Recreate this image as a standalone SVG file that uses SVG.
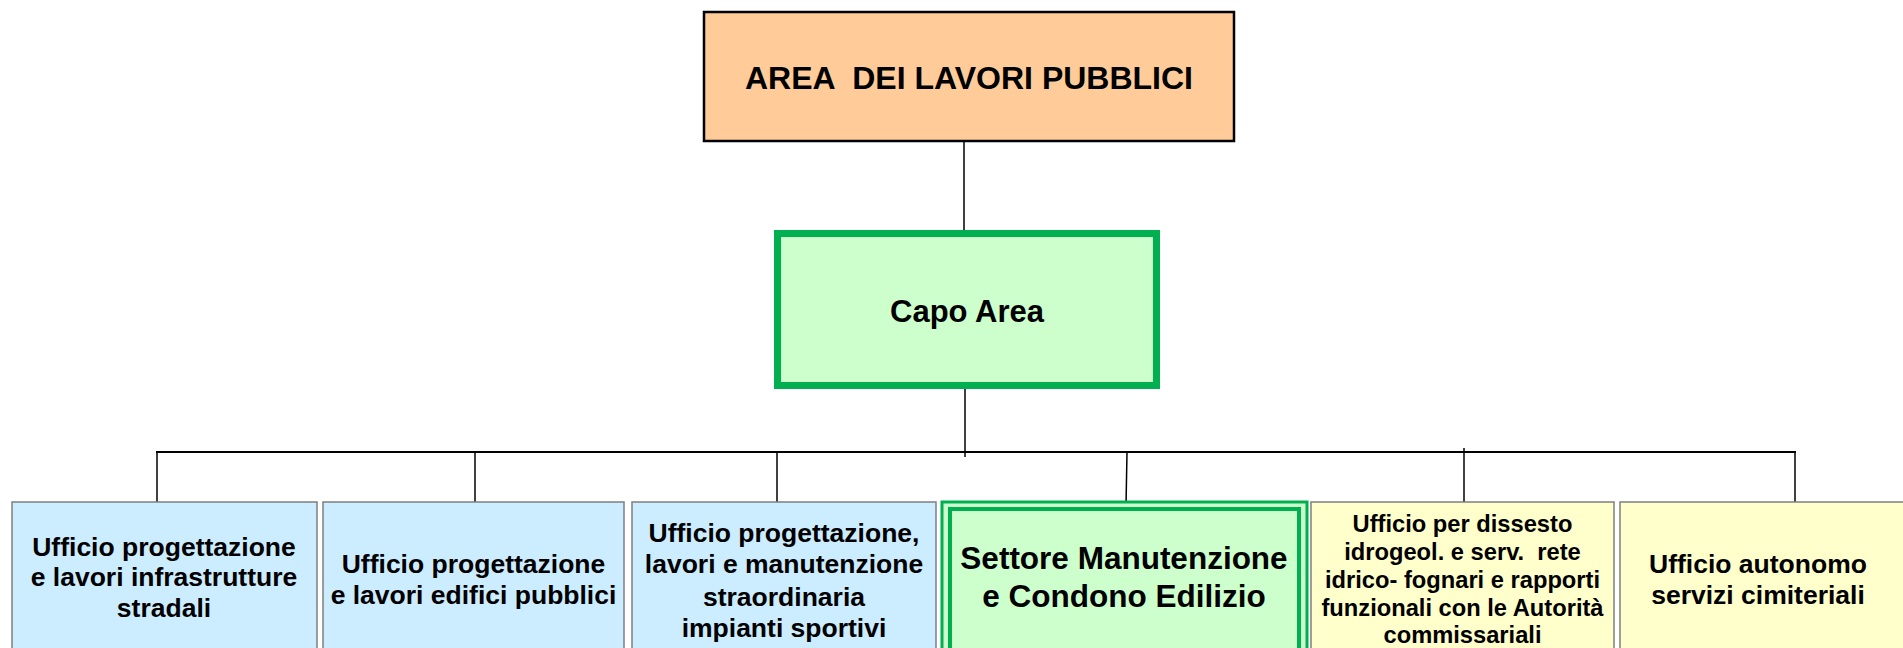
<svg xmlns="http://www.w3.org/2000/svg" width="1903" height="648" viewBox="0 0 1903 648">
<style>
text{font-family:"Liberation Sans",Arial,sans-serif;font-weight:bold;fill:#000;text-anchor:middle;white-space:pre}
.blue{fill:#ccecff;stroke:#7f7f7f;stroke-width:1.5}
.yel{fill:#ffffcc;stroke:#7f7f7f;stroke-width:1.5}
.ln{stroke:#000;stroke-width:1.5;fill:none}
.t26{font-size:26.5px}
.t23{font-size:23.7px}
</style>
<rect width="1903" height="648" fill="#fff"/>
<g id="connectors">
<line class="ln" x1="964" y1="141" x2="964" y2="232"/>
<line class="ln" x1="965" y1="388" x2="965" y2="457"/>
<line class="ln" x1="156" y1="452" x2="1796" y2="452" style="stroke-width:2.2"/>
<line class="ln" x1="157" y1="452" x2="157" y2="502"/>
<line class="ln" x1="475" y1="452" x2="475" y2="502"/>
<line class="ln" x1="777" y1="452" x2="777" y2="502"/>
<line class="ln" x1="1127" y1="452" x2="1126" y2="506"/>
<line class="ln" x1="1464" y1="448" x2="1464" y2="502"/>
<line class="ln" x1="1795" y1="452" x2="1795" y2="502"/>
</g>
<g id="area">
<rect x="704" y="12" width="530" height="129" fill="#ffcc99" stroke="#000" stroke-width="2.5"/>
<text x="969" y="89" xml:space="preserve" style="font-size:32px">AREA  DEI LAVORI PUBBLICI</text>
</g>
<g id="capo">
<rect x="777.5" y="233.5" width="379" height="152" fill="#ccffcc" stroke="#00b050" stroke-width="7"/>
<text x="967" y="322" style="font-size:31px">Capo Area</text>
</g>
<g id="uff1">
<rect class="blue" x="12" y="502" width="305" height="160"/>
<text class="t26" x="164" y="556">Ufficio progettazione</text>
<text class="t26" x="164" y="586">e lavori infrastrutture</text>
<text class="t26" x="164" y="617">stradali</text>
</g>
<g id="uff2">
<rect class="blue" x="323" y="502" width="301" height="160"/>
<text class="t26" x="473.5" y="573">Ufficio progettazione</text>
<text class="t26" x="473.5" y="604">e lavori edifici pubblici</text>
</g>
<g id="uff3">
<rect class="blue" x="632" y="502" width="304" height="160"/>
<text class="t26" x="784" y="542">Ufficio progettazione,</text>
<text class="t26" x="784" y="573">lavori e manutenzione</text>
<text class="t26" x="784" y="606">straordinaria</text>
<text class="t26" x="784" y="637">impianti sportivi</text>
</g>
<g id="settore">
<rect x="942" y="502" width="365" height="160" fill="#ccffcc" stroke="#00b050" stroke-width="3"/>
<rect x="950" y="509" width="349" height="160" fill="none" stroke="#00b050" stroke-width="4"/>
<text x="1124" y="569" style="font-size:31.5px">Settore Manutenzione</text>
<text x="1124" y="607" style="font-size:31.5px">e Condono Edilizio</text>
</g>
<g id="uff5">
<rect class="yel" x="1311" y="502" width="303" height="160"/>
<text class="t23" x="1462.5" y="532">Ufficio per dissesto</text>
<text class="t23" x="1462.5" y="560" xml:space="preserve">idrogeol. e serv.  rete</text>
<text class="t23" x="1462.5" y="588">idrico- fognari e rapporti</text>
<text class="t23" x="1462.5" y="616">funzionali con le Autorità</text>
<text class="t23" x="1462.5" y="643">commissariali</text>
</g>
<g id="uff6">
<rect class="yel" x="1620" y="502" width="290" height="160"/>
<text class="t26" x="1758" y="573">Ufficio autonomo</text>
<text class="t26" x="1758" y="604">servizi cimiteriali</text>
</g>
</svg>
